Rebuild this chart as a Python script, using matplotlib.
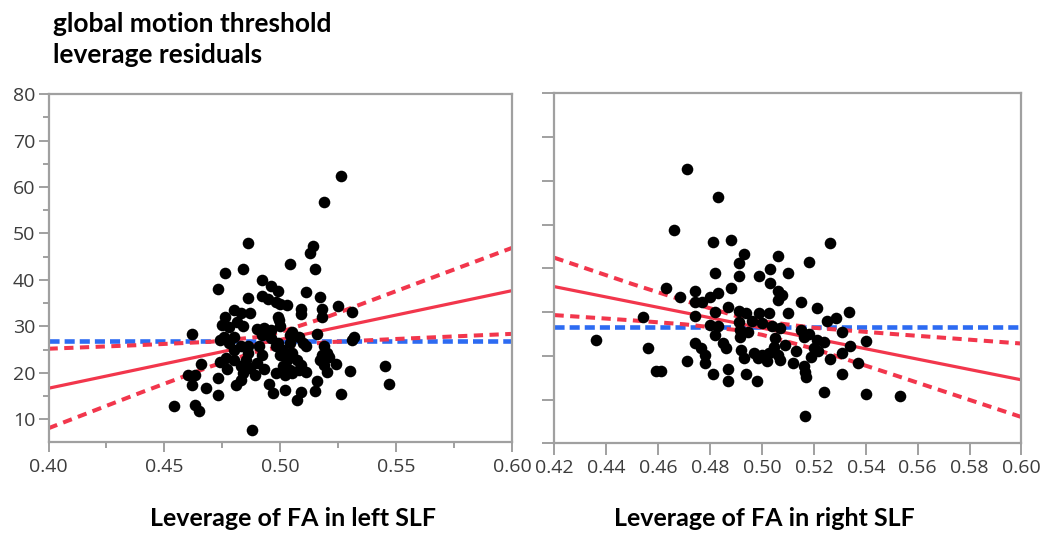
import matplotlib
matplotlib.use('Agg')
import matplotlib.pyplot as plt
from matplotlib.ticker import MultipleLocator

# left panel: leverage residuals vs FA in left SLF
left_x = [0.526, 0.519, 0.486, 0.514, 0.513, 0.504, 0.515, 0.484, 0.476, 0.473,
          0.492, 0.496, 0.499, 0.511, 0.492, 0.486, 0.517, 0.525, 0.500, 0.503,
          0.509, 0.518, 0.531, 0.509, 0.518, 0.480, 0.476, 0.483, 0.487, 0.499,
          0.475, 0.462, 0.484, 0.490, 0.493, 0.500, 0.505, 0.516, 0.532, 0.531,
          0.474, 0.478, 0.480, 0.483, 0.486, 0.492, 0.496, 0.498, 0.508, 0.511,
          0.519, 0.520, 0.517, 0.521, 0.480, 0.486, 0.492, 0.501, 0.505, 0.507,
          0.509, 0.480, 0.474, 0.466, 0.477, 0.483, 0.487, 0.493, 0.498, 0.501,
          0.504, 0.508, 0.524, 0.530, 0.545, 0.520, 0.460, 0.463, 0.473, 0.484,
          0.489, 0.483, 0.481, 0.462, 0.468, 0.495, 0.502, 0.516, 0.547, 0.473,
          0.497, 0.502, 0.509, 0.515, 0.526, 0.507, 0.454, 0.463, 0.465, 0.488,
          0.485, 0.490, 0.491, 0.499, 0.504, 0.498, 0.496, 0.4995, 0.4815, 0.478,
          0.4757, 0.504, 0.510, 0.518, 0.500, 0.503, 0.4765, 0.519, 0.505, 0.511,
          0.4945]
left_y = [62.4, 56.7, 48.0, 47.2, 45.7, 43.5, 42.4, 42.4, 41.6, 38.0,
          40.0, 38.6, 37.6, 37.3, 36.6, 36.2, 36.3, 34.4, 34.8, 34.7,
          33.7, 33.8, 33.0, 32.7, 32.0, 33.5, 32.1, 32.8, 32.8, 32.1,
          30.3, 28.4, 30.0, 29.4, 29.6, 30.0, 28.7, 28.4, 27.8, 27.1,
          27.1, 26.4, 27.8, 25.7, 25.7, 28.2, 27.5, 25.7, 27.8, 25.7,
          25.7, 24.2, 22.8, 23.5, 24.9, 24.2, 23.8, 24.9, 24.2, 22.8,
          21.7, 22.8, 22.4, 21.9, 20.8, 21.4, 21.0, 20.9, 19.9, 21.4,
          20.6, 20.6, 21.9, 20.4, 21.4, 20.1, 19.6, 19.6, 18.9, 19.9,
          19.6, 18.5, 17.4, 17.4, 16.8, 17.6, 19.6, 18.3, 17.6, 15.3,
          15.6, 16.3, 15.8, 16.0, 15.4, 14.2, 12.9, 13.0, 11.7, 7.7,
          22.8, 22.1, 25.7, 26.4, 26.4, 35.3, 29.2, 31.4, 31.0, 29.8,
          27.8, 28.2, 26.4, 23.9, 23.9, 22.8, 23.2, 21.7, 19.9, 20.3,
          35.8]

# right panel: leverage residuals vs FA in right SLF
right_x = [0.471, 0.483, 0.466, 0.481, 0.488, 0.526, 0.493, 0.506, 0.491, 0.518,
           0.503, 0.482, 0.491, 0.499, 0.510, 0.503, 0.463, 0.488, 0.474, 0.483,
           0.506, 0.5075, 0.480, 0.4685, 0.506, 0.515, 0.474, 0.477, 0.521, 0.487,
           0.510, 0.482, 0.491, 0.494, 0.499, 0.5025, 0.474, 0.454, 0.5335, 0.5285,
           0.525, 0.480, 0.491, 0.496, 0.500, 0.504, 0.483, 0.4915, 0.4947, 0.507,
           0.515, 0.518, 0.531, 0.436, 0.482, 0.4915, 0.505, 0.516, 0.521, 0.524,
           0.540, 0.474, 0.485, 0.509, 0.534, 0.456, 0.4765, 0.486, 0.492, 0.5045,
           0.513, 0.520, 0.478, 0.497, 0.500, 0.5025, 0.506, 0.493, 0.4986, 0.502,
           0.519, 0.526, 0.531, 0.471, 0.478, 0.507, 0.512, 0.516, 0.537, 0.459,
           0.461, 0.487, 0.481, 0.494, 0.5166, 0.531, 0.517, 0.487, 0.498, 0.524,
           0.540, 0.553, 0.5166, 0.5215]
right_y = [62.6, 56.2, 48.8, 45.9, 46.5, 45.7, 43.3, 42.8, 41.3, 41.4,
           39.8, 38.9, 38.2, 38.2, 39.0, 36.7, 35.4, 35.4, 34.9, 34.3,
           34.8, 33.9, 33.5, 33.5, 32.8, 32.4, 32.4, 32.2, 30.9, 31.2,
           29.7, 30.1, 30.3, 29.7, 29.7, 29.7, 29.0, 28.8, 29.9, 28.7,
           28.0, 27.0, 27.8, 28.0, 27.4, 26.7, 26.7, 25.9, 25.5, 26.3,
           25.9, 25.0, 25.5, 23.5, 24.8, 24.2, 24.0, 24.4, 23.6, 23.2,
           23.4, 22.9, 22.9, 22.5, 22.3, 21.7, 21.7, 21.7, 21.3, 22.1,
           21.0, 21.7, 20.2, 20.6, 20.2, 20.7, 20.2, 19.4, 19.4, 18.7,
           19.8, 19.2, 20.7, 18.7, 18.4, 19.0, 18.3, 17.7, 18.4, 16.5,
           16.5, 16.9, 15.8, 15.8, 16.4, 15.8, 15.2, 14.3, 14.3, 11.8,
           11.3, 10.7, 6.2, 21.0]

# fitted line, confidence curves and mean line
left_fit_x = [0.40, 0.60]
left_fit_y = [16.7, 37.7]
left_ci_x = [0.40, 0.44, 0.47, 0.49, 0.50, 0.52, 0.55, 0.60]
left_ci_hi = [25.2, 26.0, 26.7, 27.7, 28.8, 32.0, 37.6, 46.9]
left_ci_lo = [8.1, 15.8, 21.4, 24.6, 25.6, 26.6, 27.3, 28.4]
left_mean = 26.8

right_fit_x = [0.42, 0.60]
right_fit_y = [35.8, 14.5]
right_ci_x = [0.42, 0.45, 0.47, 0.49, 0.50, 0.52, 0.55, 0.60]
right_ci_hi = [42.4, 36.4, 32.6, 29.1, 27.9, 26.4, 25.0, 22.8]
right_ci_lo = [29.3, 28.1, 27.2, 25.9, 24.8, 21.6, 15.8, 6.0]
right_mean = 26.6

red = '#f2364c'
blue = '#2d6bf2'
grey = '#a0a0a0'
tick_font = 'Open Sans'
bold_font = 'Lato'

plt.rcParams['font.family'] = tick_font
plt.rcParams['xtick.labelsize'] = 14
plt.rcParams['ytick.labelsize'] = 14

fig = plt.figure(figsize=(10.48, 5.33), dpi=100)
ax1 = fig.add_axes([0.0463, 0.1713, 0.4423, 0.6523])
ax2 = fig.add_axes([0.5291, 0.1683, 0.4456, 0.6567])


def draw(ax, xs, ys, fx, fy, cx, chi, clo, mean, xlim):
    ax.plot(xlim, [mean, mean], color=blue, lw=3.3, dashes=(2.2, 1.1), zorder=1,
            solid_capstyle='butt', dash_capstyle='butt')
    ax.plot(cx, chi, color=red, lw=2.9, dashes=(2.3, 1.6), zorder=1)
    ax.plot(cx, clo, color=red, lw=2.9, dashes=(2.3, 1.6), zorder=1)
    ax.plot(fx, fy, color=red, lw=2.3, zorder=1)
    ax.scatter(xs, ys, s=70, color='black', zorder=3, linewidths=0)
    ax.set_xlim(xlim)
    for sp in ax.spines.values():
        sp.set_color(grey)
        sp.set_linewidth(1.6)
    ax.tick_params(colors=grey, labelcolor='#3c3c3c', width=1.4)


draw(ax1, left_x, left_y, left_fit_x, left_fit_y, left_ci_x, left_ci_hi, left_ci_lo,
     left_mean, (0.40, 0.60))
ax1.set_ylim(5.2, 80)
ax1.xaxis.set_major_locator(MultipleLocator(0.05))
ax1.xaxis.set_minor_locator(MultipleLocator(0.025))
ax1.yaxis.set_major_locator(MultipleLocator(10))
ax1.yaxis.set_minor_locator(MultipleLocator(5))
ax1.xaxis.set_major_formatter(lambda v, p: f'{v:.2f}')
ax1.tick_params(which='major', length=7.5, pad=4)
ax1.tick_params(axis='y', which='major', pad=2)
ax1.tick_params(which='minor', length=4.5, colors=grey, width=1.4)

draw(ax2, right_x, right_y, right_fit_x, right_fit_y, right_ci_x, right_ci_hi, right_ci_lo,
     right_mean, (0.42, 0.60))
ax2.set_ylim(0, 80)
ax2.xaxis.set_major_locator(MultipleLocator(0.02))
ax2.yaxis.set_major_locator(MultipleLocator(10))
ax2.xaxis.set_major_formatter(lambda v, p: f'{v:.2f}')
ax2.tick_params(which='major', length=8.5, pad=3)
ax2.tick_params(axis='y', labelleft=False)

fig.text(0.0506, 1 - 31.7 / 533, 'global motion threshold', fontsize=19,
         fontweight='bold', family=bold_font, va='baseline')
fig.text(0.0506, 1 - 63.3 / 533, 'leverage residuals', fontsize=19,
         fontweight='bold', family=bold_font, va='baseline')
fig.text(0.2796, 1 - 526 / 533, 'Leverage of FA in left SLF', fontsize=18,
         fontweight='bold', family=bold_font, ha='center', va='baseline')
fig.text(0.7295, 1 - 526 / 533, 'Leverage of FA in right SLF', fontsize=18,
         fontweight='bold', family=bold_font, ha='center', va='baseline')

fig.savefig('out.png', dpi=100)
